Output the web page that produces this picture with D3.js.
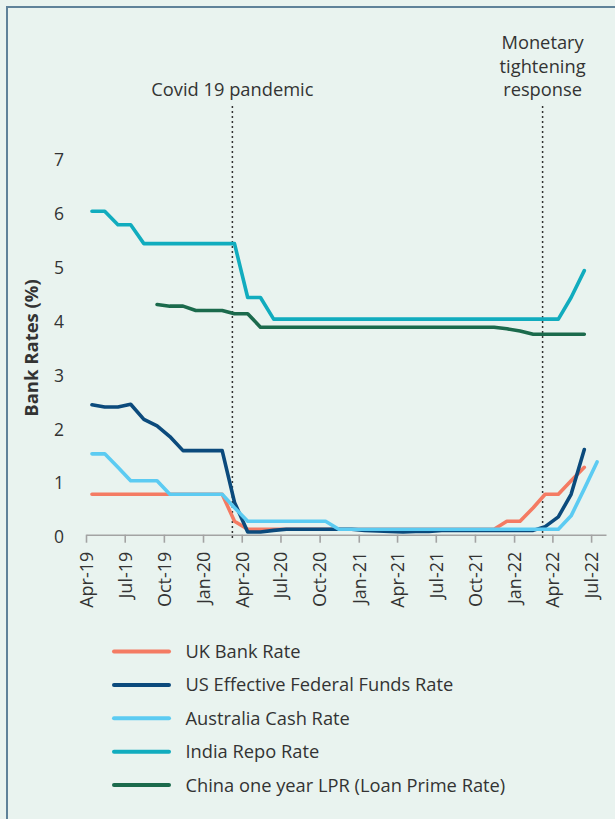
<!DOCTYPE html>
<html>
<head>
<meta charset="utf-8">
<script src="https://cdn.jsdelivr.net/npm/d3@7"></script>
<style>
  html, body { margin: 0; padding: 0; background: #e9f3ef; }
  body { width: 615px; height: 819px; overflow: hidden; }
  text { font-family: "Open Sans", sans-serif; fill: #333; }
</style>
</head>
<body>
<div class="chart"></div>
<script>
const svgWidth = 615;
const svgHeight = 819;

// monthly observations, Apr-19 .. Jul-22
const months = ['Apr-19', 'May-19', 'Jun-19', 'Jul-19', 'Aug-19', 'Sep-19', 'Oct-19', 'Nov-19',
  'Dec-19', 'Jan-20', 'Feb-20', 'Mar-20', 'Apr-20', 'May-20', 'Jun-20', 'Jul-20', 'Aug-20',
  'Sep-20', 'Oct-20', 'Nov-20', 'Dec-20', 'Jan-21', 'Feb-21', 'Mar-21', 'Apr-21', 'May-21',
  'Jun-21', 'Jul-21', 'Aug-21', 'Sep-21', 'Oct-21', 'Nov-21', 'Dec-21', 'Jan-22', 'Feb-22',
  'Mar-22', 'Apr-22', 'May-22', 'Jun-22', 'Jul-22'];

const ukRate = [0.75, 0.75, 0.75, 0.75, 0.75, 0.75, 0.75, 0.75, 0.75, 0.75, 0.75, 0.25,
  0.1, 0.1, 0.1, 0.1, 0.1, 0.1, 0.1, 0.1, 0.1, 0.1, 0.1, 0.1, 0.1, 0.1, 0.1, 0.1, 0.1, 0.1,
  0.1, 0.1, 0.25, 0.25, 0.5, 0.75, 0.75, 1.0, 1.25, null];

const usRate = [2.41, 2.37, 2.37, 2.42, 2.14, 2.02, 1.82, 1.56, 1.56, 1.56, 1.56, 0.6,
  0.05, 0.05, 0.08, 0.1, 0.1, 0.1, 0.1, 0.1, 0.1, 0.08, 0.07, 0.06, 0.05, 0.06, 0.06, 0.08,
  0.08, 0.08, 0.08, 0.08, 0.08, 0.08, 0.08, 0.15, 0.33, 0.75, 1.58, null];

const ausRate = [1.5, 1.5, 1.25, 1.0, 1.0, 1.0, 0.75, 0.75, 0.75, 0.75, 0.75, 0.5,
  0.25, 0.25, 0.25, 0.25, 0.25, 0.25, 0.25, 0.1, 0.1, 0.1, 0.1, 0.1, 0.1, 0.1, 0.1, 0.1,
  0.1, 0.1, 0.1, 0.1, 0.1, 0.1, 0.1, 0.1, 0.1, 0.35, 0.85, 1.35];

const indiaRate = [6.0, 6.0, 5.75, 5.75, 5.4, 5.4, 5.4, 5.4, 5.4, 5.4, 5.4, 5.4,
  4.4, 4.4, 4.0, 4.0, 4.0, 4.0, 4.0, 4.0, 4.0, 4.0, 4.0, 4.0, 4.0, 4.0, 4.0, 4.0, 4.0, 4.0,
  4.0, 4.0, 4.0, 4.0, 4.0, 4.0, 4.0, 4.4, 4.9, null];

const chinaRate = [null, null, null, null, null, 4.27, 4.24, 4.24, 4.16, 4.16, 4.16, 4.1,
  4.1, 3.85, 3.85, 3.85, 3.85, 3.85, 3.85, 3.85, 3.85, 3.85, 3.85, 3.85, 3.85, 3.85, 3.85,
  3.85, 3.85, 3.85, 3.85, 3.85, 3.82, 3.78, 3.72, 3.72, 3.72, 3.72, 3.72, null];

const seriesNames = ['UK Bank Rate', 'US Effective Federal Funds Rate', 'Australia Cash Rate',
  'India Repo Rate', 'China one year LPR (Loan Prime Rate)'];
const seriesColors = ['#f47b63', '#0b4a7c', '#5ccbf2', '#11acbe', '#1b6a4c'];

const yTicks = [0, 1, 2, 3, 4, 5, 6, 7];

// event markers
const events = [
  { date: '2020-03-10', lines: ['Covid 19 pandemic'] },
  { date: '2022-03-09', lines: ['Monetary', 'tightening', 'response'] }
];

const parseMonth = d3.timeParse('%b-%y');
const parseDay = d3.timeParse('%Y-%m-%d');
const monthDates = months.map(m => d3.timeDay.offset(parseMonth(m), 14));

const svg = d3.select('.chart')
  .append('svg')
  .attr('width', svgWidth)
  .attr('height', svgHeight);

// panel frame (top and left edges)
svg.append('path')
  .attr('d', `M7,${svgHeight} V7 H${svgWidth}`)
  .attr('fill', 'none')
  .attr('stroke', '#5f8299')
  .attr('stroke-width', 2);

// scales
const xScale = d3.scaleTime()
  .domain([parseMonth('Apr-19'), parseDay('2022-08-05')])
  .range([86, 606]);

const yScale = d3.scaleLinear()
  .domain([0, 7])
  .range([534.7, 157.4]);

// y axis, labels only
const leftAxis = d3.axisLeft(yScale)
  .tickValues(yTicks)
  .tickSize(0)
  .tickPadding(22)
  .tickFormat(d3.format('d'));

svg.append('g')
  .attr('transform', 'translate(86, 2.5)')
  .call(leftAxis)
  .call(g => g.select('.domain').remove())
  .selectAll('text')
  .style('font-size', '17.5px')
  .style('font-family', '"Open Sans", sans-serif')
  .attr('fill', '#333');

// x axis
const bottomAxis = d3.axisBottom(xScale)
  .ticks(d3.timeMonth.every(3))
  .tickSize(8)
  .tickSizeOuter(0)
  .tickFormat(d3.timeFormat('%b-%y'));

const xAxisG = svg.append('g')
  .attr('transform', `translate(0, ${yScale(0)})`)
  .call(bottomAxis);

xAxisG.selectAll('line, path')
  .attr('stroke', '#a3a3a3')
  .attr('stroke-width', 1.6);

xAxisG.selectAll('text')
  .attr('transform', 'rotate(-90)')
  .attr('x', -17)
  .attr('y', 0)
  .attr('dy', '0.35em')
  .style('text-anchor', 'end')
  .style('font-size', '18px')
  .style('font-family', '"Open Sans", sans-serif')
  .attr('fill', '#333');

// y axis title
svg.append('text')
  .attr('transform', 'translate(38, 348) rotate(-90)')
  .style('text-anchor', 'middle')
  .style('font-size', '18.5px')
  .style('font-weight', 'bold')
  .text('Bank Rates (%)');

// event lines and labels
events.forEach(ev => {
  const x = xScale(parseDay(ev.date));
  svg.append('line')
    .attr('x1', x).attr('x2', x)
    .attr('y1', 106).attr('y2', 541)
    .attr('stroke', '#333')
    .attr('stroke-width', 1.5)
    .attr('stroke-dasharray', '2,3');
  const n = ev.lines.length;
  ev.lines.forEach((t, i) => {
    svg.append('text')
      .attr('x', x)
      .attr('y', 96 - (n - 1 - i) * 23.5)
      .style('text-anchor', 'middle')
      .style('font-size', '18.3px')
      .text(t);
  });
});

// series lines
const allSeries = [ukRate, usRate, ausRate, indiaRate, chinaRate];

const line = d3.line()
  .defined(d => d.value !== null)
  .x(d => xScale(d.date))
  .y(d => yScale(d.value));

// draw order: China, India, UK, US, Australia on top
const drawOrder = [4, 3, 0, 1, 2];
drawOrder.forEach(k => {
  const data = allSeries[k].map((v, i) => ({ date: monthDates[i], value: v }));
  svg.append('path')
    .datum(data)
    .attr('fill', 'none')
    .attr('stroke', seriesColors[k])
    .attr('stroke-width', 3.6)
    .attr('stroke-linejoin', 'round')
    .attr('stroke-linecap', 'round')
    .attr('d', line);
});

// legend
const legend = svg.append('g')
  .attr('transform', 'translate(114, 651.5)');

seriesNames.forEach((name, i) => {
  const row = legend.append('g')
    .attr('transform', `translate(0, ${i * 33.4})`);
  row.append('line')
    .attr('x1', 0).attr('x2', 55)
    .attr('y1', 0).attr('y2', 0)
    .attr('stroke', seriesColors[i])
    .attr('stroke-width', 4)
    .attr('stroke-linecap', 'round');
  row.append('text')
    .attr('x', 71.5)
    .attr('y', 0)
    .attr('dy', '0.35em')
    .style('font-size', '18.3px')
    .text(name);
});
</script>
</body>
</html>
